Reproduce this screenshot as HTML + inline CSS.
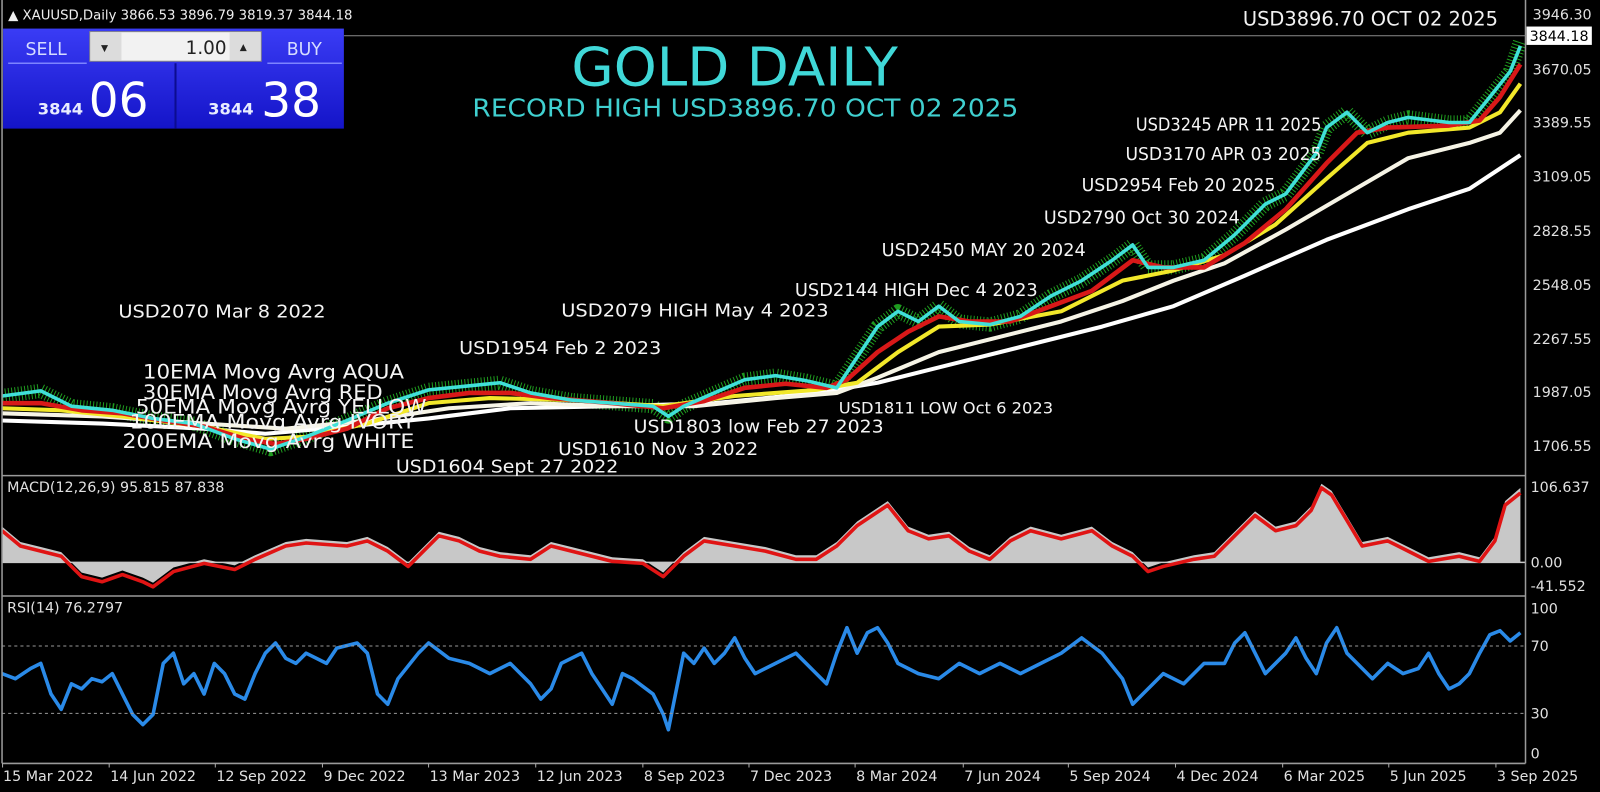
<!DOCTYPE html>
<html><head><meta charset="utf-8"><style>
html,body{margin:0;padding:0;background:#000;overflow:hidden}
svg{display:block}
text{font-family:"DejaVu Sans","Liberation Sans",sans-serif}
.ax{font-family:"Liberation Sans",sans-serif;font-size:14px;fill:#e0e0e0}
.lb{fill:#f4f4f4;font-size:17px}
</style></head><body>
<svg width="1600" height="792" viewBox="0 0 1568 776" preserveAspectRatio="none" xmlns="http://www.w3.org/2000/svg">
<defs>
<clipPath id="cm"><rect x="2" y="0" width="1493" height="466"/></clipPath>
<clipPath id="cd"><rect x="2" y="467" width="1493" height="117"/></clipPath>
<clipPath id="cr"><rect x="2" y="585" width="1493" height="163"/></clipPath>
<linearGradient id="bg" x1="0" y1="0" x2="0" y2="1"><stop offset="0" stop-color="#3a3cf5"/><stop offset="1" stop-color="#1414c8"/></linearGradient>
</defs>
<rect width="1568" height="776" fill="#000"/>
<g clip-path="url(#cm)" fill="none" stroke-linejoin="round">
<path d="M2,388 L40,383 L70,398 L110,402 L150,410 L190,415 L230,430 L265,440 L300,428 L340,412 L380,395 L420,382 L460,378 L490,375 L520,385 L560,392 L600,395 L640,398 L655,408 L670,398 L700,385 L730,372 L760,368 L790,373 L820,380 L840,350 L860,320 L880,305 L900,315 L920,300 L940,315 L970,318 L1000,310 L1030,290 L1060,275 L1090,255 L1110,240 L1125,262 L1150,262 L1180,255 L1210,230 L1240,200 L1260,190 L1275,170 L1290,150 L1300,125 L1320,110 L1340,130 L1360,120 L1380,115 L1420,120 L1440,120 L1460,95 L1480,70 L1490,40" stroke="#1f9a1f" stroke-width="14" stroke-dasharray="1,2.2"/>
<path d="M2,412 L100,415 L200,420 L260,425 L340,418 L420,410 L500,400 L600,398 L700,395 L800,385 L860,375 L920,360 L1000,340 L1080,320 L1150,300 L1220,270 L1300,235 L1380,205 L1440,185 L1490,152" stroke="#fff" stroke-width="4"/>
<path d="M2,405 L100,408 L200,415 L280,420 L360,412 L440,400 L520,395 L600,398 L680,398 L760,390 L820,385 L860,370 L920,345 L980,330 L1040,315 L1100,295 L1150,275 L1200,258 L1260,225 L1320,190 L1380,155 L1440,140 L1470,130 L1490,108" stroke="#f6f4e6" stroke-width="4"/>
<path d="M2,400 L60,402 L120,408 L200,418 L260,430 L300,428 L360,415 L420,395 L480,390 L560,392 L650,398 L720,388 L800,382 L840,375 L880,345 L920,320 L970,318 L1040,305 L1100,275 L1150,265 L1200,250 L1250,220 L1300,175 L1340,140 L1380,130 L1440,125 L1470,110 L1490,82" stroke="#f2e82a" stroke-width="4"/>
<path d="M2,395 L40,395 L80,402 L120,405 L160,412 L200,418 L240,430 L270,435 L300,430 L340,420 L380,400 L420,390 L460,385 L500,385 L540,390 L600,395 L650,400 L690,393 L730,380 L770,376 L810,380 L830,372 L860,345 L890,325 L920,310 L950,315 L990,315 L1030,300 L1070,285 L1110,255 L1140,262 L1180,262 L1220,238 L1260,205 L1300,160 L1330,130 L1360,125 L1420,123 L1450,118 L1470,95 L1490,63" stroke="#d81818" stroke-width="4.5"/>
<path d="M2,388 L40,383 L70,398 L110,402 L150,410 L190,415 L230,430 L265,440 L300,428 L340,412 L380,395 L420,382 L460,378 L490,375 L520,385 L560,392 L600,395 L640,398 L655,408 L670,398 L700,385 L730,372 L760,368 L790,373 L820,380 L840,350 L860,320 L880,305 L900,315 L920,300 L940,315 L970,318 L1000,310 L1030,290 L1060,275 L1090,255 L1110,240 L1125,262 L1150,262 L1180,255 L1210,230 L1240,200 L1260,190 L1275,170 L1290,150 L1300,125 L1320,110 L1340,130 L1360,120 L1380,115 L1420,120 L1440,120 L1460,95 L1480,70 L1490,45" stroke="#40e0d8" stroke-width="3.5"/>
</g>
<g clip-path="url(#cd)">
<path d="M2,551 L2,516 L20,531 L40,536 L60,541 L80,561 L100,566 L120,559 L140,566 L150,571 L170,556 L200,548 L230,554 L250,544 L280,531 L300,528 L340,531 L360,526 L380,536 L400,551 L430,521 L450,526 L470,536 L490,541 L520,544 L540,531 L560,536 L600,546 L630,548 L650,561 L670,541 L690,526 L720,531 L750,536 L780,544 L800,544 L820,531 L840,511 L870,491 L890,516 L910,524 L930,521 L950,536 L970,544 L990,526 L1010,516 L1040,524 L1070,516 L1090,531 L1110,541 L1125,556 L1140,551 L1170,544 L1190,541 L1210,521 L1230,501 L1250,516 L1270,511 L1285,496 L1295,474 L1305,481 L1320,506 L1335,531 L1360,526 L1380,536 L1400,546 L1430,541 L1450,546 L1465,526 L1475,491 L1490,478 L1490,551 Z" fill="#c8c8c8"/>
<line x1="2" y1="551" x2="1495" y2="551" stroke="#c8c8c8" stroke-width="1.5"/>
<path d="M2,520 L20,535 L40,540 L60,545 L80,565 L100,570 L120,563 L140,570 L150,575 L170,560 L200,552 L230,558 L250,548 L280,535 L300,532 L340,535 L360,530 L380,540 L400,555 L430,525 L450,530 L470,540 L490,545 L520,548 L540,535 L560,540 L600,550 L630,552 L650,565 L670,545 L690,530 L720,535 L750,540 L780,548 L800,548 L820,535 L840,515 L870,495 L890,520 L910,528 L930,525 L950,540 L970,548 L990,530 L1010,520 L1040,528 L1070,520 L1090,535 L1110,545 L1125,560 L1140,555 L1170,548 L1190,545 L1210,525 L1230,505 L1250,520 L1270,515 L1285,500 L1295,478 L1305,485 L1320,510 L1335,535 L1360,530 L1380,540 L1400,550 L1430,545 L1450,550 L1465,530 L1475,495 L1490,483" fill="none" stroke="#e01414" stroke-width="3.5" stroke-linejoin="round"/>
</g>
<g clip-path="url(#cr)">
<path d="M2,660 L15,665 L30,655 L40,650 L50,680 L60,695 L70,670 L80,675 L90,665 L100,668 L110,660 L120,680 L130,700 L140,710 L150,700 L160,650 L170,640 L180,670 L190,660 L200,680 L210,650 L220,660 L230,680 L240,685 L250,660 L260,640 L270,630 L280,645 L290,650 L300,640 L320,650 L330,635 L350,630 L360,640 L370,680 L380,690 L390,665 L410,640 L420,630 L440,645 L460,650 L480,660 L500,650 L520,670 L530,685 L540,675 L550,650 L570,640 L580,660 L590,675 L600,690 L610,660 L620,665 L640,680 L650,700 L655,715 L660,690 L670,640 L680,650 L690,635 L700,650 L710,640 L720,625 L730,645 L740,660 L760,650 L780,640 L800,660 L810,670 L820,640 L830,615 L840,640 L850,620 L860,615 L870,630 L880,650 L900,660 L920,665 L940,650 L960,660 L980,650 L1000,660 L1020,650 L1040,640 L1060,625 L1080,640 L1100,665 L1110,690 L1120,680 L1140,660 L1160,670 L1180,650 L1200,650 L1210,630 L1220,620 L1230,640 L1240,660 L1260,640 L1270,625 L1280,645 L1290,660 L1300,630 L1310,615 L1320,640 L1330,650 L1345,665 L1360,650 L1375,660 L1390,655 L1400,640 L1410,660 L1420,675 L1430,670 L1440,660 L1450,640 L1460,622 L1470,618 L1480,628 L1490,620" fill="none" stroke="#2a8ae8" stroke-width="3.5" stroke-linejoin="round"/>
</g>
<g stroke="#9a9a9a" stroke-width="1.5" fill="none">
<line x1="2" y1="0" x2="2" y2="748"/>
<line x1="1495" y1="0" x2="1495" y2="748"/>
<line x1="2" y1="466" x2="1495" y2="466"/>
<line x1="2" y1="584" x2="1495" y2="584"/>
<line x1="2" y1="748" x2="1495" y2="748"/>
</g>
<line x1="337" y1="35" x2="1495" y2="35" stroke="#8a8a8a" stroke-width="1"/>
<g stroke="#999" stroke-width="1" stroke-dasharray="3,3">
<line x1="2" y1="633" x2="1495" y2="633"/><line x1="2" y1="699" x2="1495" y2="699"/>
</g>
<text x="8" y="19" font-family="Liberation Sans" font-size="13" fill="#eee">▲ XAUUSD,Daily  3866.53 3896.79 3819.37 3844.18</text>
<rect x="3" y="28" width="334" height="98" fill="url(#bg)"/>
<line x1="8" y1="62" x2="85" y2="62" stroke="#7d84ff" stroke-width="1.5"/>
<line x1="262" y1="62" x2="335" y2="62" stroke="#7d84ff" stroke-width="1.5"/>
<line x1="172" y1="62" x2="172" y2="126" stroke="#0c0c90" stroke-width="2"/>
<text x="25" y="54" font-family="Liberation Sans" font-size="17" fill="#d6dcff">SELL</text>
<text x="281" y="54" font-family="Liberation Sans" font-size="17" fill="#d6dcff">BUY</text>
<rect x="88" y="31" width="168" height="29" fill="#f2f2f2" stroke="#888"/>
<rect x="89" y="32" width="30" height="27" fill="#dcdcdc"/><rect x="225" y="32" width="30" height="27" fill="#dcdcdc"/>
<text x="99" y="50" font-size="9" fill="#222">▼</text><text x="235" y="49" font-size="9" fill="#222">▲</text>
<text x="222" y="53" text-anchor="end" font-family="Liberation Sans" font-size="18" fill="#222">1.00</text>
<text x="37" y="112" font-family="Liberation Sans" font-weight="bold" font-size="16" fill="#e8ecff">3844</text>
<text x="87" y="114" font-family="Liberation Sans" font-size="46" fill="#fff">06</text>
<text x="204" y="112" font-family="Liberation Sans" font-weight="bold" font-size="16" fill="#e8ecff">3844</text>
<text x="256" y="114" font-family="Liberation Sans" font-size="46" fill="#fff">38</text>
<rect x="1496" y="26" width="64" height="18" fill="#fff"/>
<text x="1499" y="40" font-family="Liberation Sans" font-size="14" fill="#000">3844.18</text>
<g class="ax">
<text x="1502" y="19">3946.30</text><text x="1502" y="73">3670.05</text><text x="1502" y="125">3389.55</text>
<text x="1502" y="178">3109.05</text><text x="1502" y="231">2828.55</text><text x="1502" y="284">2548.05</text>
<text x="1502" y="337">2267.55</text><text x="1502" y="389">1987.05</text><text x="1502" y="442">1706.55</text>
<text x="1500" y="482">106.637</text><text x="1500" y="556">0.00</text><text x="1500" y="579">-41.552</text>
<text x="1500" y="601">100</text><text x="1500" y="638">70</text><text x="1500" y="704">30</text><text x="1500" y="743">0</text>
<text x="7" y="482">MACD(12,26,9) 95.815 87.838</text>
<text x="7" y="600">RSI(14) 76.2797</text>
</g>
<g stroke="#aaa"><line x1="2.5" y1="748" x2="2.5" y2="752"/><line x1="107" y1="748" x2="107" y2="752"/><line x1="211" y1="748" x2="211" y2="752"/><line x1="316" y1="748" x2="316" y2="752"/><line x1="420" y1="748" x2="420" y2="752"/><line x1="525" y1="748" x2="525" y2="752"/><line x1="630" y1="748" x2="630" y2="752"/><line x1="734" y1="748" x2="734" y2="752"/><line x1="838" y1="748" x2="838" y2="752"/><line x1="944" y1="748" x2="944" y2="752"/><line x1="1047" y1="748" x2="1047" y2="752"/><line x1="1152" y1="748" x2="1152" y2="752"/><line x1="1257" y1="748" x2="1257" y2="752"/><line x1="1361" y1="748" x2="1361" y2="752"/><line x1="1466" y1="748" x2="1466" y2="752"/></g>
<g class="ax">
<text x="3" y="765">15 Mar 2022</text><text x="108" y="765">14 Jun 2022</text><text x="212" y="765">12 Sep 2022</text><text x="317" y="765">9 Dec 2022</text><text x="421" y="765">13 Mar 2023</text><text x="526" y="765">12 Jun 2023</text><text x="631" y="765">8 Sep 2023</text><text x="735" y="765">7 Dec 2023</text><text x="839" y="765">8 Mar 2024</text><text x="945" y="765">7 Jun 2024</text><text x="1048" y="765">5 Sep 2024</text><text x="1153" y="765">4 Dec 2024</text><text x="1258" y="765">6 Mar 2025</text><text x="1362" y="765">5 Jun 2025</text><text x="1467" y="765">3 Sep 2025</text>
</g>
<text x="560" y="84" textLength="320" lengthAdjust="spacingAndGlyphs" font-size="52" fill="#40d8d8">GOLD DAILY</text>
<text x="463" y="114" textLength="535" lengthAdjust="spacingAndGlyphs" font-size="24" fill="#40d0d0">RECORD HIGH USD3896.70  OCT 02 2025</text>
<text x="1218" y="25" textLength="250" lengthAdjust="spacingAndGlyphs" font-size="19" fill="#f2f2f2">USD3896.70 OCT 02 2025</text>
<g class="lb">
<text x="116" y="311" textLength="203" lengthAdjust="spacingAndGlyphs">USD2070 Mar 8 2022</text>
<text x="140" y="371" textLength="256" lengthAdjust="spacingAndGlyphs" font-size="19">10EMA Movg Avrg AQUA</text>
<text x="140" y="391" textLength="235" lengthAdjust="spacingAndGlyphs" font-size="19">30EMA Movg Avrg RED</text>
<text x="133" y="405" textLength="285" lengthAdjust="spacingAndGlyphs" font-size="19">50EMA Movg Avrg YELLOW</text>
<text x="127" y="420" textLength="280" lengthAdjust="spacingAndGlyphs" font-size="19">100EMA Movg Avrg IVORY</text>
<text x="120" y="439" textLength="286" lengthAdjust="spacingAndGlyphs" font-size="19">200EMA Movg Avrg WHITE</text>
<text x="450" y="347" textLength="198" lengthAdjust="spacingAndGlyphs">USD1954 Feb 2 2023</text>
<text x="550" y="310" textLength="262" lengthAdjust="spacingAndGlyphs">USD2079 HIGH May 4 2023</text>
<text x="779" y="290" textLength="238" lengthAdjust="spacingAndGlyphs">USD2144 HIGH Dec 4 2023</text>
<text x="864" y="251" textLength="200" lengthAdjust="spacingAndGlyphs">USD2450  MAY 20 2024</text>
<text x="1023" y="219" textLength="192" lengthAdjust="spacingAndGlyphs">USD2790  Oct 30 2024</text>
<text x="1060" y="187" textLength="190" lengthAdjust="spacingAndGlyphs">USD2954  Feb 20 2025</text>
<text x="1103" y="157" textLength="192" lengthAdjust="spacingAndGlyphs">USD3170  APR 03 2025</text>
<text x="1113" y="128" textLength="182" lengthAdjust="spacingAndGlyphs">USD3245 APR 11 2025</text>
<text x="822" y="405" textLength="210" lengthAdjust="spacingAndGlyphs" font-size="16">USD1811 LOW Oct 6 2023</text>
<text x="621" y="424" textLength="245" lengthAdjust="spacingAndGlyphs">USD1803 low Feb 27 2023</text>
<text x="547" y="446" textLength="196" lengthAdjust="spacingAndGlyphs">USD1610 Nov 3 2022</text>
<text x="388" y="463" textLength="218" lengthAdjust="spacingAndGlyphs">USD1604 Sept 27 2022</text>
</g>
</svg>
</body></html>
